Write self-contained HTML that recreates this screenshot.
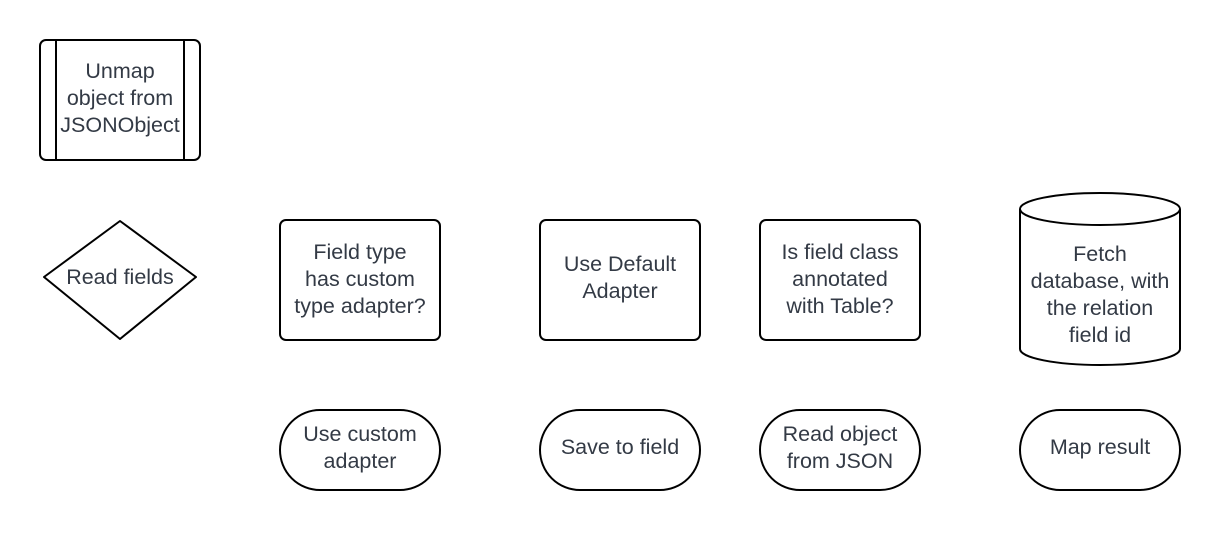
<!DOCTYPE html>
<html><head><style>
body{margin:0;background:#fff;width:1220px;height:550px;overflow:hidden}
svg text{font-family:"Liberation Sans",sans-serif;font-size:21.5px;fill:#333a45;text-anchor:middle}
</style></head><body>
<svg width="1220" height="550" viewBox="0 0 1220 550" fill="none" stroke="#000" stroke-width="2">
<rect x="40" y="40" width="160" height="120" rx="6"/>
<line x1="56" y1="40" x2="56" y2="160"/><line x1="184" y1="40" x2="184" y2="160"/>
<path d="M120 221 L196 277 L120 339 L44 277 Z" stroke-linejoin="round"/>
<rect x="280" y="220" width="160" height="120" rx="6"/>
<rect x="540" y="220" width="160" height="120" rx="6"/>
<rect x="760" y="220" width="160" height="120" rx="6"/>
<path d="M1020 209 L1020 349 A80 16 0 0 0 1180 349 L1180 209"/>
<ellipse cx="1100" cy="209" rx="80" ry="16"/>
<rect x="280" y="410" width="160" height="80" rx="40"/>
<rect x="540" y="410" width="160" height="80" rx="40"/>
<rect x="760" y="410" width="160" height="80" rx="40"/>
<rect x="1020" y="410" width="160" height="80" rx="40"/>
<g stroke="none">
<text x="120" y="78">Unmap</text><text x="120" y="105">object from</text><text x="120" y="132">JSONObject</text>
<text x="120" y="284">Read fields</text>
<text x="360" y="259">Field type</text><text x="360" y="286">has custom</text><text x="360" y="313">type adapter?</text>
<text x="620" y="271">Use Default</text><text x="620" y="298">Adapter</text>
<text x="840" y="259">Is field class</text><text x="840" y="286">annotated</text><text x="840" y="313">with Table?</text>
<text x="1100" y="261">Fetch</text><text x="1100" y="288">database, with</text><text x="1100" y="315">the relation</text><text x="1100" y="342">field id</text>
<text x="360" y="441">Use custom</text><text x="360" y="468">adapter</text>
<text x="620" y="454">Save to field</text>
<text x="840" y="441">Read object</text><text x="840" y="468">from JSON</text>
<text x="1100" y="454">Map result</text>
</g>
</svg>
</body></html>
